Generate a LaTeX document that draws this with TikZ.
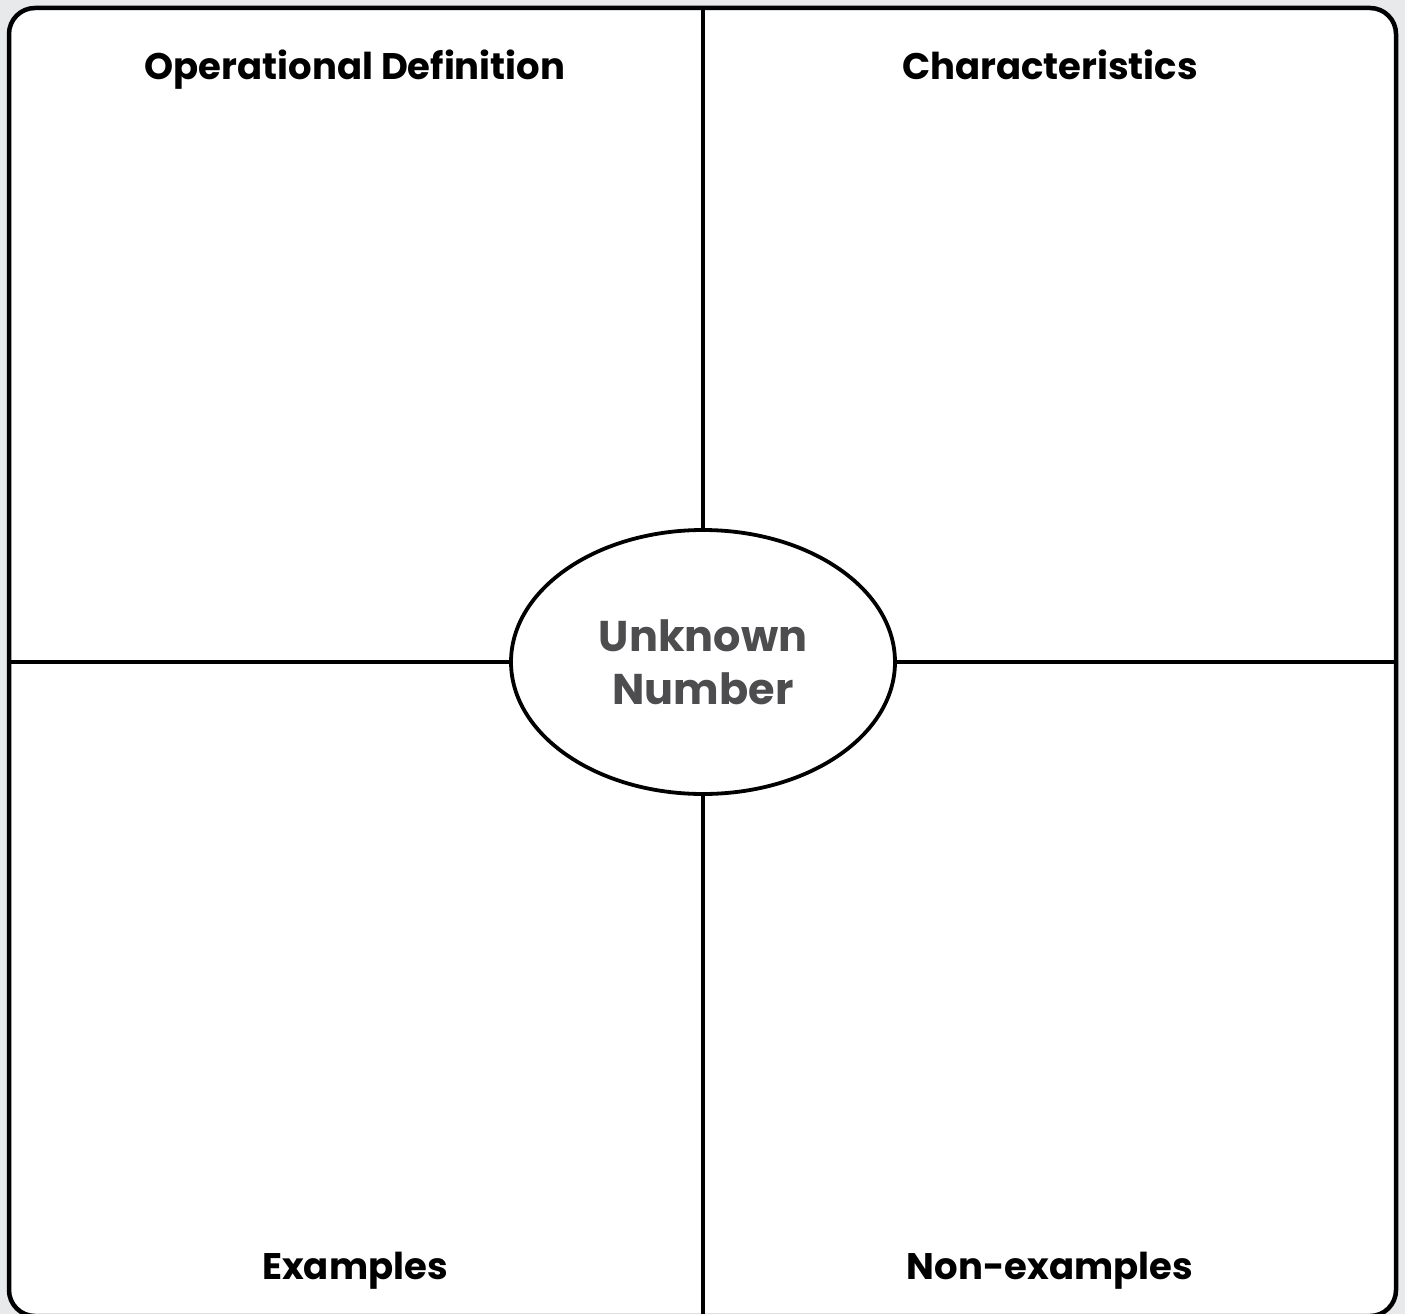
\documentclass[tikz,border=0pt]{standalone}
\usepackage{fontspec}
\setmainfont{Poppins}
\usetikzlibrary{shapes.geometric}
\definecolor{bggray}{HTML}{E8E9EA}
\definecolor{txtgray}{HTML}{4D4D4F}
\begin{document}
\begin{tikzpicture}[x=1pt,y=-1pt,
  frame/.style={draw=black,line width=4.5pt,fill=white,rounded corners=26pt},
  divider/.style={draw=black,line width=3.2pt},
  title/.style={font=\fontsize{37}{44}\selectfont\bfseries,text=black,inner sep=0pt,anchor=base},
  center/.style={ellipse,draw=black,line width=3.8pt,fill=white,minimum width=384pt,minimum height=264pt,inner sep=0pt,
     font=\fontsize{43}{53}\selectfont\bfseries,text=txtgray,align=center}]
\useasboundingbox (0,0) rectangle (1405,1314);
\fill[bggray] (0,0) rectangle (1405,1314);
\begin{scope}
\clip (0,0) rectangle (1405,1314);
\draw[frame] (9,8) rectangle (1396,1316);
\end{scope}
\node[center] (c) at (703,662) {Unknown\\Number};
\coordinate (top) at (703,8);
\coordinate (bot) at (703,1314);
\coordinate (lft) at (9,662);
\coordinate (rgt) at (1396,662);
\draw[divider] (top) -- (c.north);
\draw[divider] (c.south) -- (bot);
\draw[divider] (lft) -- (c.west);
\draw[divider] (c.east) -- (rgt);
\node[title] (op) at (355,79) {Operational Definition};
\node[title] (ch) at (1050,79) {Characteristics};
\node[title] (ex) at (355,1279) {Examples};
\node[title] (ne) at (1050,1279) {Non-examples};
\end{tikzpicture}
\end{document}
